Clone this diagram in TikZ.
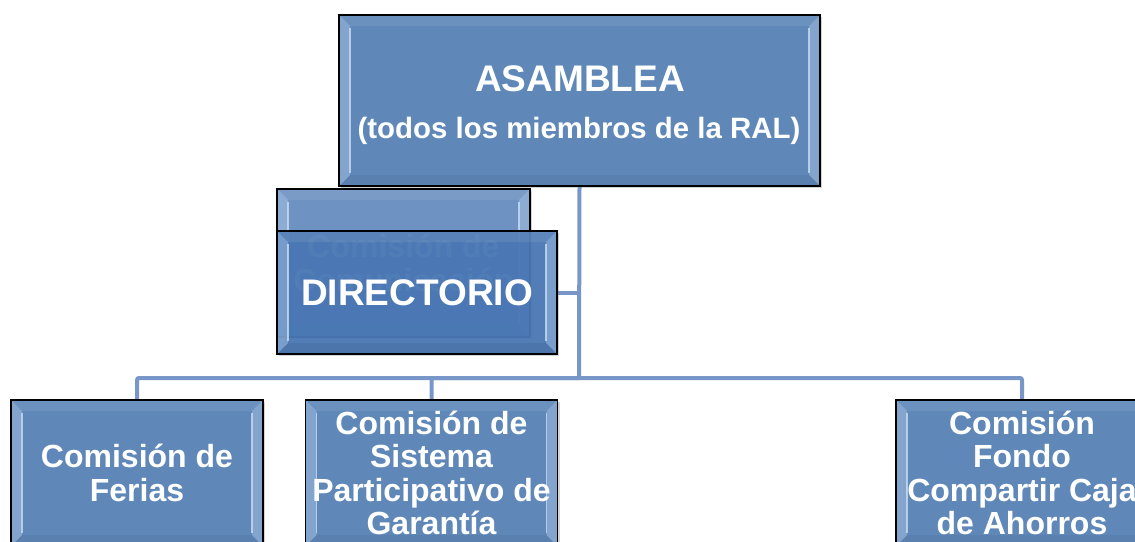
\documentclass[tikz,border=0pt]{standalone}
\usepackage{fontspec}
\setmainfont{Liberation Sans}
\usetikzlibrary{calc,shadows,backgrounds}
\definecolor{boxblue}{HTML}{5F88B9}
\definecolor{dirblue}{HTML}{4877B5}
\definecolor{comblue}{HTML}{6E93C2}
\definecolor{connblue}{HTML}{7896C8}
\definecolor{bevelc}{HTML}{C8DDF3}
\tikzset{
  bevelbox/.style={draw=black, line width=1.4pt, rectangle, inner sep=0pt,
    text=white, align=center,
    font=\bfseries\fontsize{32}{33.3}\selectfont,
    drop shadow={shadow xshift=2pt,shadow yshift=-2pt,opacity=.35},
    path picture={
      \fill[bevelc,opacity=.35] (path picture bounding box.north west) -- ++(11pt,-11pt)
        -- ($(path picture bounding box.south west)+(11pt,11pt)$) -- (path picture bounding box.south west) -- cycle;
      \fill[bevelc,opacity=.35] (path picture bounding box.north east) -- ++(-11pt,-11pt)
        -- ($(path picture bounding box.south east)+(-11pt,11pt)$) -- (path picture bounding box.south east) -- cycle;
      \fill[white,opacity=.08] (path picture bounding box.north west) -- ++(11pt,-11pt)
        -- ($(path picture bounding box.north east)+(-11pt,-11pt)$) -- (path picture bounding box.north east) -- cycle;
      \fill[black,opacity=.06] (path picture bounding box.south west) -- ++(11pt,11pt)
        -- ($(path picture bounding box.south east)+(-11pt,11pt)$) -- (path picture bounding box.south east) -- cycle;
      \draw[bevelc,opacity=.8,line width=1.6pt] ($(path picture bounding box.north west)+(11pt,-13pt)$)
        -- ($(path picture bounding box.south west)+(11pt,13pt)$);
      \draw[bevelc,opacity=.8,line width=1.6pt] ($(path picture bounding box.north east)+(-11pt,-13pt)$)
        -- ($(path picture bounding box.south east)+(-11pt,13pt)$);
    }},
  conn/.style={draw=connblue, line width=4pt},
  bigtxt/.style={text=white, font=\bfseries\fontsize{37}{40}\selectfont, inner sep=0pt, anchor=base},
  subtxt/.style={text=white, font=\bfseries\fontsize{29.4}{32}\selectfont, inner sep=0pt, anchor=base},
}
\begin{document}
\begin{tikzpicture}[x=1pt,y=-1pt]
\useasboundingbox (0,0) rectangle (1135,541);
% top box
\node[bevelbox, fill=boxblue, minimum width=481pt, minimum height=171pt] (asm) at (579.5,100.5) {};
\node[bigtxt] (asmT) at (580,91) {ASAMBLEA};
\node[subtxt] (asmS) at (579,138) {(todos los miembros de la RAL)};
% comunicacion (behind)
\node[bevelbox, fill=comblue, minimum width=253pt, minimum height=148pt] (com) at (403.5,263) {Comisión de\\Comunicación};
% directorio
\node[bevelbox, fill=dirblue, fill opacity=.93, text opacity=1, minimum width=280pt, minimum height=123pt,
      font=\bfseries\fontsize{37}{40}\selectfont] (dir) at (417,292.5) {DIRECTORIO};
% bottom boxes
\node[bevelbox, fill=boxblue, minimum width=252pt, minimum height=146pt] (fer) at (137,473) {Comisión de\\Ferias};
\node[bevelbox, fill=boxblue, minimum width=252pt, minimum height=146pt] (spg) at (431.5,473) {Comisión de\\Sistema\\Participativo de\\Garantía};
\node[bevelbox, fill=boxblue, minimum width=252pt, minimum height=146pt] (caja) at (1022,473) {Comisión\\Fondo\\Compartir Caja\\de Ahorros};
\coordinate (bus) at (579,378);
\begin{pgfonlayer}{background}
\draw[conn] (asm.south) -- (bus);
\draw[conn] (dir.east) -- (dir.east -| bus);
\draw[conn, rounded corners=2pt] (bus) -| (fer.north);
\draw[conn, rounded corners=2pt] (bus) -| (spg.north);
\draw[conn, rounded corners=2pt] (bus) -| (caja.north);
\end{pgfonlayer}
\end{tikzpicture}
\end{document}
